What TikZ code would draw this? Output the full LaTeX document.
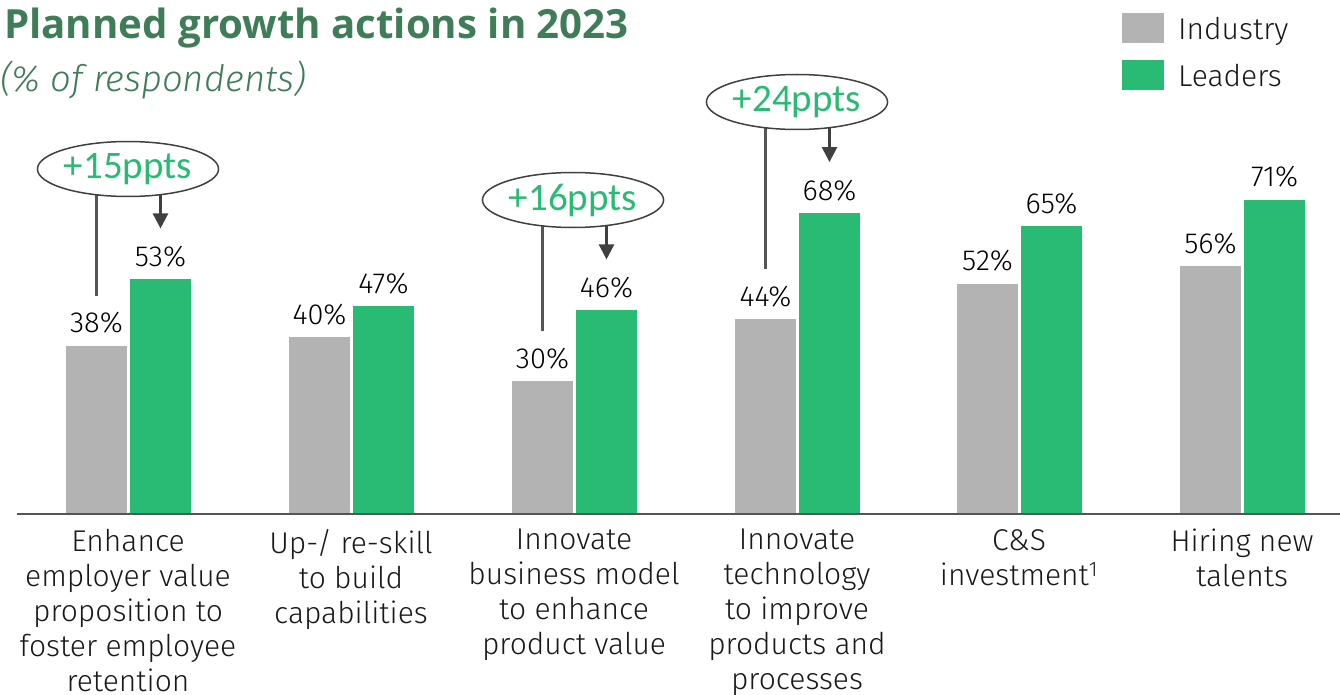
\documentclass[tikz,border=0pt]{standalone}
\usepackage{fontspec}
\setmainfont{Fira Sans}[UprightFont={* Light},ItalicFont={* Light Italic},BoldFont={* Bold}]
\newfontfamily\calib{Carlito}
\newfontfamily\ttlfont{Open Sans}
\usetikzlibrary{arrows.meta,shapes.geometric,calc}
\pgfdeclarelayer{bg}
\pgfsetlayers{bg,main}
\definecolor{ind}{HTML}{B3B3B3}
\definecolor{lead}{HTML}{29BA74}
\definecolor{ttl}{HTML}{3E7D57}
\definecolor{dk}{HTML}{404040}
\definecolor{ax}{HTML}{555555}
\begin{document}
\begin{tikzpicture}[x=1pt,y=-1pt,
  ibar/.style={fill=ind,draw=none,inner sep=0pt,outer sep=0pt,minimum width=61pt,anchor=south west},
  lbar/.style={fill=lead,draw=none,inner sep=0pt,outer sep=0pt,minimum width=61pt,anchor=south west},
  val/.style={font=\fontsize{29}{32}\selectfont,text=black,inner sep=0pt,anchor=base},
  cat/.style={font=\fontsize{30}{35}\selectfont,text=black!90,inner sep=0pt,anchor=north,align=center},
  ell/.style={ellipse,draw=dk,line width=1.5pt,fill=white,minimum width=181pt,minimum height=55pt,inner sep=0pt,text=lead,font=\calib\fontsize{39}{40}\selectfont},
  lead line/.style={draw=ax,line width=2.4pt},
  pointer/.style={draw=dk,line width=2.4pt,-{Triangle[width=15pt,length=15pt]}},
  leg/.style={font=\fontsize{30}{34}\selectfont,text=black!90,inner sep=0pt,anchor=base west},
  sq/.style={draw=none,inner sep=0pt,minimum width=42pt,minimum height=30pt,anchor=north west}
]
\useasboundingbox (0,0) rectangle (1340,695);

% title
\node[anchor=base west,inner sep=0pt,text=ttl,font=\ttlfont\bfseries\fontsize{40.2}{42}\selectfont] (title) at (4,39) {Planned growth actions in 2023};
\node[anchor=base west,inner sep=0pt,text=ttl,font=\itshape\fontsize{36.5}{40}\selectfont] (sub) at (0,92) {(\% of respondents)};

% legend
\node[sq,fill=ind] (sqI) at (1122,13) {};
\node[sq,fill=lead] (sqL) at (1122,60) {};
\node[leg] (tI) at (1178,40) {Industry};
\node[leg] (tL) at (1178,87) {Leaders};

% bars
\foreach \i/\gx/\a/\b in {1/66/38/53, 2/289/40/47, 3/512/30/46, 4/735/44/68, 5/957/52/65, 6/1180/56/71} {
  \node[ibar,minimum height=\a*4.425pt] (i\i) at (\gx,514) {};
  \node[lbar,minimum height=\b*4.425pt] (l\i) at (\gx+64,514) {};
  \node[val] (vi\i) at ([yshift=13pt]i\i.north) {\a\%};
  \node[val] (vl\i) at ([yshift=13pt]l\i.north) {\b\%};
}

% axis
\coordinate (axL) at (17,514);
\coordinate (axR) at (1340,514);
\draw[draw=ax,line width=2pt] (axL) -- (axR);

% category labels
\node[cat] (c1) at (128,529) {Enhance\\employer value\\proposition to\\foster employee\\retention};
\node[cat] (c2) at (351,529) {Up-/ re-skill\\to build\\capabilities};
\node[cat] (c3) at (574,529) {Innovate\\business model\\to enhance\\product value};
\node[cat] (c4) at (797,529) {Innovate\\technology\\to improve\\products and\\processes};
\node[cat] (c5) at (1019,529) {C\&S\\investment\textsuperscript{1}};
\node[cat] (c6) at (1242,529) {Hiring new\\talents};

% callouts
\node[ell] (e1) at (128,169) {+15ppts};
\node[ell] (e2) at (573,200) {+16ppts};
\node[ell] (e3) at (797,102) {+24ppts};
\begin{pgfonlayer}{bg}
\foreach \e/\k in {e1/1,e2/3,e3/4} {
  \draw[lead line] (\e.center -| i\k.center) -- ([yshift=50pt]i\k.north);
  \draw[pointer] (\e.center -| l\k.center) -- ([yshift=51pt]l\k.north);
}
\end{pgfonlayer}
\end{tikzpicture}
\end{document}
